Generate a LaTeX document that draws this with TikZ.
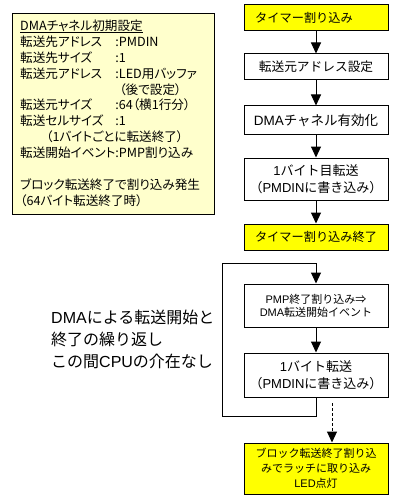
\documentclass[tikz,border=0pt]{standalone}
\usepackage{fontspec}
\setmainfont{Noto Sans CJK JP}
\newfontfamily\jpp{Noto Sans CJK JP}[RawFeature=+palt]
\newfontfamily\lat{Liberation Sans}
\newcommand\la[1]{{\lat #1}}
\newcommand\myul[1]{\setbox0\hbox{#1}\rlap{\rule[-2.2pt]{\wd0}{1pt}}\box0}
\usetikzlibrary{arrows.meta}
\definecolor{ylw}{HTML}{FFFF00}
\definecolor{lylw}{HTML}{FFFFCC}
\begin{document}
\begin{tikzpicture}[x=1pt,y=-1pt,
  box/.style={draw,line width=1pt,minimum width=144pt,inner sep=0pt,align=center,font=\fontsize{13}{16.5}\selectfont},
  ybox/.style={box,fill=ylw},
  arr/.style={line width=1pt,-{Triangle[width=10pt,length=11pt]}},
  dsh/.style={dash pattern=on 3pt off 2pt}]
\useasboundingbox (0,0) rectangle (400,500);
% settings panel
\node[draw,line width=1pt,fill=lylw,minimum width=202pt,minimum height=201pt,inner sep=0pt,anchor=north west] (cfg) at (12,13) {};
\node[anchor=base west,inner sep=0pt,font=\jpp\fontsize{12.6}{15.9}\selectfont] (cfgtxt) at (20,30.5) {%
\begin{tabular}[t]{@{}l@{}l@{}}
\multicolumn{2}{@{}l@{}}{\myul{DMAチャネル初期設定}}\\
転送先アドレス & :PMDIN\\
転送先サイズ & :1\\
転送元アドレス & :LED用バッファ\\
 & \hspace*{4pt}（後で設定）\\
転送元サイズ & :64（横1行分）\\
転送セルサイズ & :1\\
\multicolumn{2}{@{}l@{}}{\hspace*{26pt}（1バイトごとに転送終了）}\\
転送開始イベント & :PMP割り込み\\
 & \\
\multicolumn{2}{@{}l@{}}{ブロック転送終了で割り込み発生}\\
\multicolumn{2}{@{}l@{}}{（64バイト転送終了時）}
\end{tabular}};
% note
\node[anchor=west,align=left,inner sep=0pt,font=\fontsize{16}{22}\selectfont] (note) at (51,339) {\la{DMA}による転送開始と\\終了の繰り返し\\この間\la{CPU}の介在なし};
% flow
\node[ybox,minimum height=26pt,font=\fontsize{12.2}{16}\selectfont] (b1) at (316,18) {タイマー割り込み\hspace*{24pt}};
\node[box,minimum height=26pt,font=\fontsize{12.7}{16}\selectfont] (b2) at (316,67) {転送元アドレス設定};
\node[box,minimum height=28pt,font=\fontsize{13.5}{16}\selectfont] (b3) at (316,120) {\la{DMA}チャネル有効化};
\node[box,minimum height=42pt] (b4) at (316,179) {\la{1}バイト目転送\\（\la{PMDIN}に書き込み）};
\node[ybox,minimum height=26pt,font=\fontsize{12.2}{16}\selectfont] (b5) at (316,237) {タイマー割り込み終了};
\node[box,minimum height=43pt,font=\fontsize{11}{13}\selectfont] (b6) at (316,305.5) {\la{PMP}終了割り込み⇒\\\la{DMA}転送開始イベント};
\node[box,minimum height=44pt] (b7) at (316,375) {\la{1}バイト転送\\（\la{PMDIN}に書き込み）};
\node[ybox,minimum height=51pt,font=\fontsize{11}{15}\selectfont] (b8) at (316,468.5) {ブロック転送終了割り込\\みでラッチに取り込み\\\la{LED}点灯};
\coordinate (lt) at (316,263);
\coordinate (lb) at (316,416);
\coordinate (ll) at (222,416);
\coordinate (lu) at (222,263);
\coordinate (ds) at (332,403);
\draw[arr] (b1) -- (b2);
\draw[arr] (b2) -- (b3);
\draw[arr] (b3) -- (b4);
\draw[arr] (b4) -- (b5);
\draw[arr] (b7.south) -- (lb) -- (ll) -- (lu) -- (lt) -- (b6);
\draw[arr] (b6) -- (b7);
\draw[arr,dsh] (ds) -- (b8.north -| ds);
\end{tikzpicture}
\end{document}
